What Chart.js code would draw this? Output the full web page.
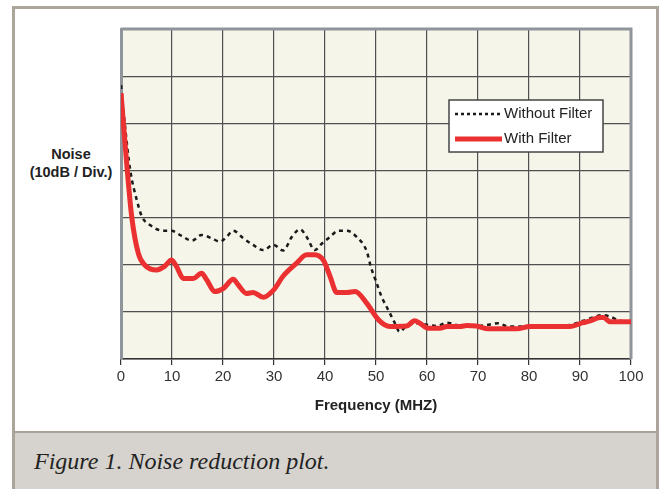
<!DOCTYPE html>
<html>
<head>
<meta charset="utf-8">
<script src="https://cdn.jsdelivr.net/npm/chart.js@4"></script>
<style>
  body { margin: 0; width: 659px; height: 489px; background: #fff; overflow: hidden; font-family: "Liberation Sans", Arial, sans-serif; }
  .frame { position: absolute; left: 12px; top: 6px; width: 641px; height: 490px; border: 3px solid #aba59c; border-bottom: none; background: #fff; }
  .caption { position: absolute; left: 12px; top: 431px; width: 641px; height: 60px; border: 3px solid #aba59c; border-top: 2px solid #a7a197; border-bottom: none; background: #d6d3ce; }
  .caption span { position: absolute; left: 19px; top: 15px; font-family: "Liberation Serif", "Times New Roman", serif; font-style: italic; font-size: 24px; color: #222; }
  .ylabel { position: absolute; left: 21px; top: 145px; width: 100px; text-align: center; font-weight: bold; font-size: 14.5px; line-height: 18px; color: #222; }
  canvas { position: absolute; left: 0; top: 0; }
</style>
</head>
<body>
<div class="frame"></div>
<div class="caption"><span>Figure 1. Noise reduction plot.</span></div>
<div class="ylabel">Noise<br>(10dB / Div.)</div>
<div style="position:absolute;left:0;top:0;width:659px;height:430px;">
  <canvas id="myChart"></canvas>
</div>
<script>
const xTicks = [0, 10, 20, 30, 40, 50, 60, 70, 80, 90, 100];

const freqWithout = [0, 0.8, 1.8, 3.1, 4.1, 5.7, 8.3, 9.9, 11.9, 13.9, 15.8, 17.8, 19.4, 20.7, 22.0, 24.0, 25.9, 27.9, 29.9, 31.8, 33.5, 35.1, 36.4, 38.0, 39.4, 41.0, 42.6, 44.3, 46.2, 48.2, 49.0, 50.0, 51.1, 52.4, 53.7, 54.6, 56.0, 58.0, 60.3, 61.9, 63.9, 65.8, 68.0, 70.0, 71.7, 74.0, 75.9, 78.2, 82.0, 88.0, 90.6, 94.6, 95.9, 97.8, 100];
const noiseWithout = [58.1, 49.3, 40.1, 33.7, 30.2, 28.4, 27.2, 27.2, 26.1, 25.1, 26.3, 25.6, 24.9, 25.9, 27.2, 25.6, 24.2, 23.1, 24.2, 23.0, 25.9, 27.5, 25.9, 23.1, 24.5, 25.9, 27.2, 27.2, 25.9, 22.8, 19.5, 16.5, 13.2, 10.4, 7.6, 5.8, 7.0, 7.6, 7.2, 7.0, 7.7, 7.2, 7.0, 7.0, 7.2, 7.6, 6.9, 6.9, 6.9, 7.2, 8.1, 9.3, 9.0, 8.1, 7.9];

const freqWith = [0, 1.0, 2.1, 3.4, 4.7, 7.0, 8.6, 9.9, 10.9, 12.2, 14.2, 15.8, 16.8, 18.4, 20.1, 22.0, 23.0, 24.6, 25.9, 27.9, 29.9, 31.8, 34.4, 36.4, 38.0, 39.7, 41.0, 42.3, 44.3, 45.9, 48.2, 50.5, 52.7, 56.0, 57.6, 58.6, 60.3, 62.5, 63.9, 66.5, 67.8, 69.7, 72.0, 75.0, 77.6, 80.2, 88.0, 90.6, 92.0, 93.9, 94.6, 95.9, 100];
const noiseWith = [56.4, 43.0, 30.2, 22.4, 19.9, 18.9, 19.7, 21.0, 19.6, 17.1, 17.1, 18.2, 16.8, 14.3, 15.0, 16.9, 15.7, 13.9, 14.1, 13.1, 14.6, 17.6, 20.3, 22.1, 22.1, 20.9, 17.5, 14.1, 14.1, 14.3, 11.8, 8.3, 6.9, 7.0, 8.1, 7.6, 6.5, 6.5, 6.9, 6.9, 7.1, 7.0, 6.4, 6.4, 6.4, 6.9, 6.9, 7.7, 8.1, 8.8, 8.8, 7.9, 7.9];

const toPoints = (xs, ys) => xs.map((x, i) => ({ x: x, y: ys[i] }));

// plot background + top/right frame
const plotFrame = {
    id: 'plotFrame',
    beforeDraw(chart) {
        const { ctx, chartArea: a } = chart;
        ctx.save();
        ctx.fillStyle = '#f5f5e9';
        ctx.fillRect(a.left, a.top, a.right - a.left, a.bottom - a.top);
        ctx.restore();
    },
    beforeDatasetsDraw(chart) {
        const { ctx, chartArea: a } = chart;
        ctx.save();
        ctx.strokeStyle = '#90959b';
        ctx.lineWidth = 3;
        ctx.beginPath();
        ctx.moveTo(a.left, a.top);
        ctx.lineTo(a.right, a.top);
        ctx.lineTo(a.right, a.bottom);
        ctx.stroke();
        ctx.restore();
    }
};

// boxed legend inside the plot
const boxLegend = {
    id: 'boxLegend',
    afterDraw(chart) {
        const ctx = chart.ctx;
        const x = 449, y = 100, w = 154, h = 52;
        ctx.save();
        ctx.fillStyle = '#fff';
        ctx.fillRect(x, y, w, h);
        ctx.strokeStyle = '#444';
        ctx.lineWidth = 1.5;
        ctx.strokeRect(x, y, w, h);
        const rows = [chart.data.datasets[0], chart.data.datasets[1]];
        rows.forEach((ds, i) => {
            const cy = y + 14 + i * 25;
            ctx.strokeStyle = ds.borderColor;
            ctx.lineWidth = ds.borderWidth;
            ctx.setLineDash(i === 0 ? [3, 3] : []);
            ctx.beginPath();
            ctx.moveTo(x + 6, cy);
            ctx.lineTo(x + 53, cy);
            ctx.stroke();
            ctx.setLineDash([]);
            ctx.fillStyle = '#222';
            ctx.font = '15px "Liberation Sans", Arial, sans-serif';
            ctx.textBaseline = 'middle';
            ctx.fillText(ds.label, x + 55, cy);
        });
        ctx.restore();
    }
};

const ctx = document.getElementById('myChart').getContext('2d');
const myChart = new Chart(ctx, {
    type: 'line',
    data: {
        datasets: [
            {
                label: 'Without Filter',
                data: toPoints(freqWithout, noiseWithout),
                borderColor: '#1a1a1a',
                borderWidth: 2.5,
                borderDash: [4, 4],
                pointRadius: 0,
                cubicInterpolationMode: 'monotone',
                order: 2
            },
            {
                label: 'With Filter',
                data: toPoints(freqWith, noiseWith),
                borderColor: '#ea3030',
                borderWidth: 5,
                pointRadius: 0,
                cubicInterpolationMode: 'monotone',
                order: 1
            }
        ]
    },
    options: {
        responsive: true,
        maintainAspectRatio: false,
        animation: false,
        layout: { padding: { left: 0, top: 29, right: 28, bottom: 11 } },
        plugins: {
            legend: { display: false },
            tooltip: { enabled: false }
        },
        scales: {
            x: {
                type: 'linear',
                min: 0,
                max: 100,
                afterBuildTicks: (scale) => { scale.ticks = xTicks.map(v => ({ value: v })); },
                afterFit: (scale) => { scale.height = 60; },
                ticks: {
                    color: '#333',
                    font: { size: 15, family: '"Liberation Sans", Arial, sans-serif' },
                    padding: 3,
                    maxRotation: 0
                },
                grid: { color: '#505050', lineWidth: 1.2, tickColor: '#333', tickLength: 6 },
                border: { color: '#333', width: 1.5 },
                title: {
                    display: true,
                    text: 'Frequency (MHZ)',
                    color: '#222',
                    font: { size: 15, weight: 'bold', family: '"Liberation Sans", Arial, sans-serif' },
                    padding: { top: 4, bottom: 4 }
                }
            },
            y: {
                type: 'linear',
                min: 0,
                max: 70,
                afterFit: (scale) => { scale.width = 121; },
                ticks: { display: false, stepSize: 10 },
                grid: { color: '#505050', lineWidth: 1.2, drawTicks: false },
                border: { color: '#90959b', width: 3 }
            }
        }
    },
    plugins: [plotFrame, boxLegend]
});
</script>
</body>
</html>
